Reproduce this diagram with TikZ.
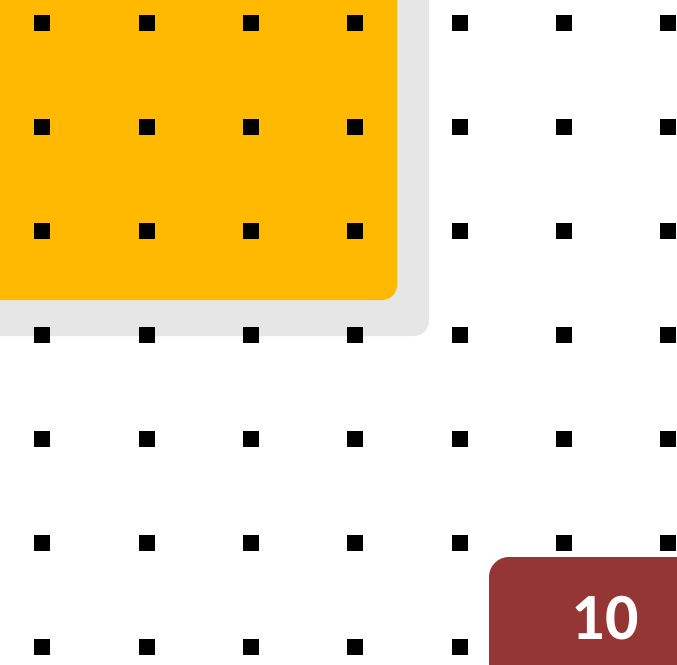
\documentclass[tikz,border=0pt]{standalone}
\usepackage{fontspec}
\usepackage{tikz}
\newfontfamily\numfont{Carlito}
\definecolor{amber}{HTML}{FFB900}
\definecolor{shade}{HTML}{E6E6E6}
\definecolor{brick}{HTML}{943634}
\tikzset{
    every picture/.style={line cap=round,line join=round},
    shadowpanel/.style={fill=shade,rounded corners=15pt},
    amberpanel/.style={fill=amber,rounded corners=15pt},
    tagpanel/.style={fill=brick,rounded corners=20pt},
    griddot/.style={fill=black,minimum size=16pt,inner sep=0pt,outer sep=0pt},
    taglabel/.style={text=white,inner sep=0pt,font=\numfont\bfseries\fontsize{66}{66}\selectfont}
}
\begin{document}
\begin{tikzpicture}[x=1pt,y=-1pt]
  \useasboundingbox (0,0) rectangle (677,664);
  \clip (0,0) rectangle (677,664);
  % panels behind the dots
  \fill[shadowpanel] (-30,-30) rectangle (429,336);
  \fill[amberpanel] (-30,-30) rectangle (397,300);
  % dot grid
  \foreach \i in {0,...,6}{
    \foreach \j in {0,...,6}{
      \node[griddot] (d\i\j) at ({42.3+104.3*\i},{23+104*\j}) {};
    }
  }
  % page tag
  \fill[tagpanel] (489,557) rectangle (720,720);
  \node[taglabel] (tag) at (605,618) {10};
\end{tikzpicture}
\end{document}
